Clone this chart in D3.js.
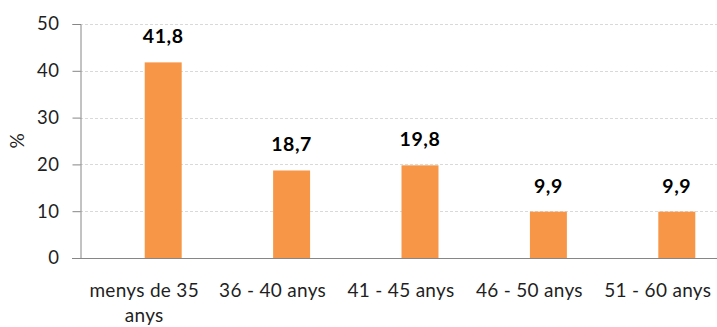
<!DOCTYPE html>
<html>
<head>
<meta charset="utf-8">
<script src="https://cdn.jsdelivr.net/npm/d3@7"></script>
<style>
  html, body { margin: 0; padding: 0; background: #fff; }
  svg { display: block; }
  text { font-family: Lato, "Open Sans", sans-serif; }
</style>
</head>
<body>
<svg id="chart" width="717" height="327"></svg>
<script>
// Distribució per edats (%)
const categories = ["menys de 35 anys", "36 - 40 anys", "41 - 45 anys", "46 - 50 anys", "51 - 60 anys"];
const values = [41.8, 18.7, 19.8, 9.9, 9.9];
const valueLabels = ["41,8", "18,7", "19,8", "9,9", "9,9"];
const yTicks = [0, 10, 20, 30, 40, 50];
const yTitle = "%";

const W = 717, H = 327;
const margin = { left: 80, top: 24, bottom: 69 };
const plotRight = 722;
const barShift = 19;      // bars sit slightly right of the category centre
const barRatio = 0.288;   // bar width as a share of the category step
const textColor = "#1f1f1f";

const svg = d3.select("#chart");

const x = d3.scaleBand()
  .domain(categories)
  .range([margin.left, plotRight])
  .padding(0);

const y = d3.scaleLinear()
  .domain([0, 50])
  .range([H - margin.bottom, margin.top]);

// dashed gridlines
svg.append("g")
  .selectAll("line")
  .data(yTicks.filter(d => d > 0))
  .join("line")
  .attr("x1", margin.left)
  .attr("x2", W)
  .attr("y1", d => Math.round(y(d)) + 0.5)
  .attr("y2", d => Math.round(y(d)) + 0.5)
  .attr("stroke", "#d9d9d9")
  .attr("stroke-width", 1)
  .attr("stroke-dasharray", "3,2");

// bars
const bw = x.bandwidth() * barRatio;
svg.append("g")
  .selectAll("rect")
  .data(categories)
  .join("rect")
  .attr("x", (d) => x(d) + x.bandwidth() / 2 + barShift - bw / 2)
  .attr("width", bw)
  .attr("y", (d, i) => y(values[i]))
  .attr("height", (d, i) => y(0) - y(values[i]))
  .attr("fill", "#f79646");

// value labels
svg.append("g")
  .selectAll("text")
  .data(categories)
  .join("text")
  .attr("x", d => x(d) + x.bandwidth() / 2 + barShift)
  .attr("y", (d, i) => y(values[i]) - 19)
  .attr("text-anchor", "middle")
  .attr("font-size", 19.5)
  .attr("font-weight", 700)
  .attr("letter-spacing", 0.6)
  .attr("fill", "#000")
  .text((d, i) => valueLabels[i]);

// y axis
const yAxis = svg.append("g")
  .attr("transform", `translate(${margin.left + 0.5},0)`)
  .call(d3.axisLeft(y).tickValues(yTicks).tickSize(8).tickPadding(13).tickFormat(d3.format("d")));
yAxis.select(".domain").attr("stroke", "#868686");
yAxis.selectAll(".tick line").attr("stroke", "#868686");
yAxis.selectAll(".tick text")
  .attr("font-size", 18.5)
  .attr("letter-spacing", 0.5)
  .attr("fill", textColor)
  .attr("font-family", "Lato, sans-serif");

// x axis baseline
svg.append("line")
  .attr("x1", margin.left - 8)
  .attr("x2", W)
  .attr("y1", Math.round(y(0)) + 0.5)
  .attr("y2", Math.round(y(0)) + 0.5)
  .attr("stroke", "#868686");

// category labels (wrapped at "35")
const catLines = {
  "menys de 35 anys": ["menys de 35", "anys"]
};
svg.append("g")
  .selectAll("text")
  .data(categories)
  .join("text")
  .attr("x", d => x(d) + x.bandwidth() / 2)
  .attr("y", y(0) + 39)
  .attr("text-anchor", "middle")
  .attr("font-size", 19)
  .attr("letter-spacing", 0.3)
  .attr("fill", textColor)
  .each(function (d) {
    const lines = catLines[d] || [d];
    const t = d3.select(this);
    lines.forEach((ln, k) => {
      t.append("tspan")
        .attr("x", x(d) + x.bandwidth() / 2)
        .attr("dy", k === 0 ? 0 : 25)
        .text(ln);
    });
  });

// y axis title
svg.append("text")
  .attr("transform", `translate(24,${(y(0) + y(50)) / 2}) rotate(-90)`)
  .attr("text-anchor", "middle")
  .attr("font-size", 19)
  .attr("fill", textColor)
  .text(yTitle);
</script>
</body>
</html>
